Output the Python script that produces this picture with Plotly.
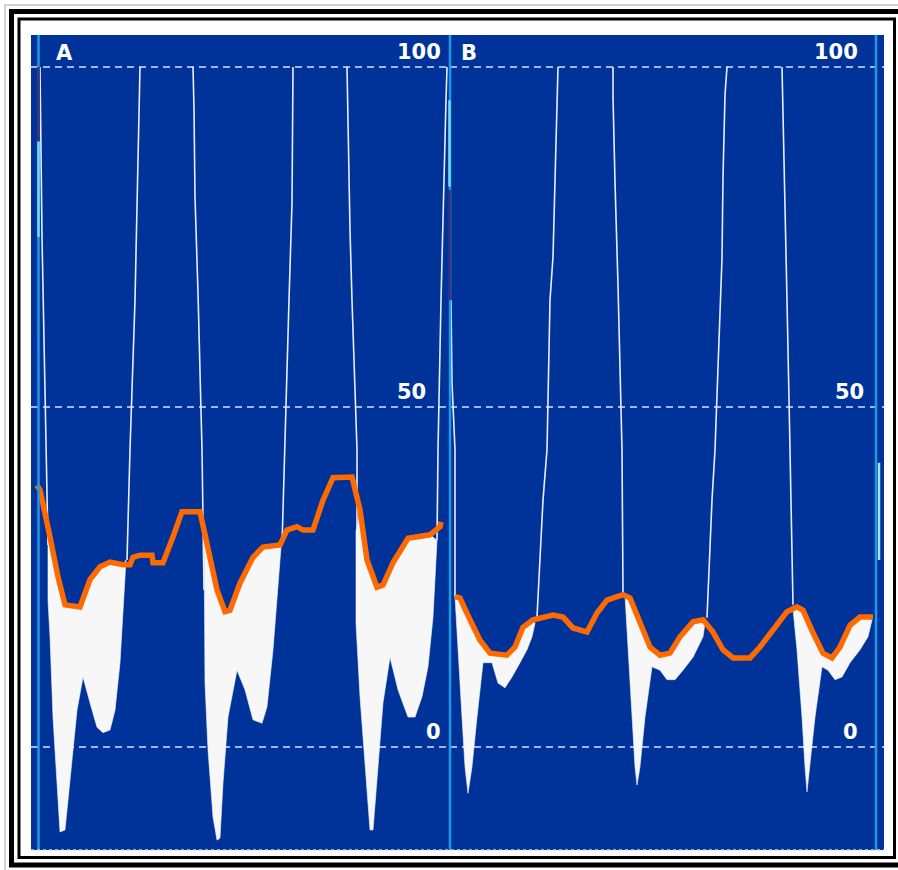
import plotly.graph_objects as go

# ---------------- data ----------------
SCALE_TICKS = [0, 50, 100]
PANELS = ["A", "B"]

# Panel A - orange envelope (time sample, value)
A_ORANGE_T = [37, 40, 50, 58, 65, 80, 90, 100, 110, 123, 130, 133, 140, 152, 153, 163, 173, 182, 200, 207,
              217, 225, 230, 240, 253, 263, 280, 287, 297, 303, 313, 323, 333, 352, 360, 367, 377, 383, 393, 408,
              430, 440, 441]
A_ORANGE_V = [38.5, 37.8, 30.9, 25.0, 20.9, 20.6, 24.6, 26.5, 27.2, 26.8, 26.8, 27.9, 28.2, 28.2, 27.1, 27.1, 30.9, 34.6, 34.6, 30.0,
              23.1, 19.9, 20.1, 24.1, 27.9, 29.4, 29.7, 31.9, 32.4, 31.9, 31.9, 36.3, 39.6, 39.7, 34.9, 27.5, 23.5, 23.8, 27.1, 30.7,
              31.2, 32.4, 33.1]

# Panel A - lower edge of the white spectrum, one list per beat
A_LOWER_T = [
    [48, 48, 50, 53, 57, 60, 65, 70, 77, 83, 90, 97, 103, 110, 115, 120, 123, 126],
    [204, 205, 208, 213, 217, 220, 223, 228, 237, 245, 253, 262, 267, 273, 278, 281],
    [356, 356, 360, 365, 370, 373, 378, 383, 390, 398, 408, 415, 422, 428, 433, 437],
]
A_LOWER_V = [
    [32.2, 21.6, 16.2, 4.4, -5.3, -12.5, -12.2, -5.3, 5.4, 10.3, 6.5, 2.9, 2.1, 2.5, 5.4, 12.4, 20.1, 27.5],
    [32.0, 9.4, -0.4, -10.3, -13.7, -13.4, -5.3, 4.4, 11.3, 8.4, 4.0, 3.5, 5.9, 14.3, 24.1, 29.4],
    [31.9, 18.2, 7.4, -2.9, -12.2, -12.2, -2.9, 6.5, 13.2, 8.4, 4.4, 4.4, 7.4, 11.8, 19.1, 30.4],
]

# Panel A - thin white pressure strokes (clipped at 100)
A_PRESS_T = [[48, 42, 40], [127, 130, 135, 138, 140], [193, 194, 195, 198, 202, 204],
             [282, 285, 289, 292, 293, 293], [347, 348, 350, 352, 357, 357], [437, 438, 441, 442, 446, 447]]
A_PRESS_V = [[29.7, 75.0, 100], [27.5, 43.7, 65.7, 83.8, 100], [100, 93.7, 80.9, 66.8, 43.7, 23.1],
             [29.7, 43.7, 65.7, 80.0, 94.7, 100], [100, 90.3, 76.0, 65.7, 43.7, 31.9], [30.4, 43.7, 65.7, 72.6, 95.1, 100]]

# Panel B - orange envelope
B_ORANGE_T = [455, 460, 470, 480, 490, 507, 515, 523, 533, 540, 553, 563, 573, 587, 597, 607, 623, 630, 640, 650,
              660, 670, 680, 693, 703, 713, 723, 733, 750, 760, 773, 787, 797, 803, 813, 823, 832, 840, 850, 860, 873]
B_ORANGE_V = [22.1, 21.9, 18.7, 15.7, 13.8, 13.5, 14.7, 17.6, 18.7, 19.0, 19.4, 19.1, 17.5, 16.9, 19.7, 21.6, 22.4, 21.9, 18.2, 14.7,
              13.5, 13.8, 16.2, 18.4, 18.7, 16.9, 14.3, 13.1, 13.1, 14.7, 17.2, 19.9, 20.6, 20.1, 16.8, 13.8, 13.1, 14.7, 17.9, 19.1, 19.1]

B_LOWER_T = [
    [455, 458, 462, 465, 468, 472, 477, 483, 492, 498, 505, 512, 520, 527, 532, 535],
    [625, 628, 632, 635, 637, 640, 645, 652, 660, 667, 675, 683, 693, 703, 705],
    [793, 797, 802, 805, 807, 810, 815, 822, 828, 835, 842, 850, 860, 868, 872],
]
B_LOWER_V = [
    [22.1, 14.3, 4.4, -2.9, -6.8, -2.9, 4.4, 12.4, 12.4, 9.4, 8.7, 10.3, 12.4, 14.3, 16.2, 18.2],
    [22.3, 14.3, 4.4, -2.9, -5.6, -2.9, 4.4, 11.8, 11.3, 9.9, 9.9, 11.3, 13.2, 16.2, 18.2],
    [20.3, 14.3, 4.4, -2.9, -6.6, -2.9, 4.4, 11.8, 11.3, 9.9, 10.3, 12.4, 14.3, 16.2, 18.7],
]

B_PRESS_T = [[455, 455, 452, 451], [537, 540, 543, 547, 550, 553, 555, 557, 558], [613, 613, 615, 618, 622, 623],
             [707, 712, 715, 720, 722, 723, 725, 727], [782, 783, 785, 787, 790, 793]]
B_PRESS_V = [[22.1, 43.7, 53.5, 65.7], [19.1, 27.5, 36.3, 43.7, 65.7, 72.1, 84.4, 96.3, 100],
             [100, 95.6, 83.1, 67.9, 43.7, 22.6], [19.0, 36.3, 43.7, 65.7, 71.9, 83.8, 95.9, 100],
             [100, 93.7, 80.4, 65.7, 43.7, 20.9]]

# ---------------- styling / layout ----------------
W, H = 898, 870
PL, PR, PT, PB = 31, 884, 35, 850          # plot area in pixels
X_RANGE_A = [31, 450]
X_RANGE_B = [450, 884]
Y_RANGE = [-15.15, 104.7]
SPLIT = (X_RANGE_A[1] - X_RANGE_A[0]) / (X_RANGE_B[1] - X_RANGE_A[0])

BLUE = "#003399"
ORANGE = "#ff6a00"
FILL = "#f7f7f7"
STROKE = "#e9eef8"
CYAN = "#1f98e6"
GRID = "#a3b5e2"


def px(xp):
    return (xp - PL) / (PR - PL)


def py(yp):
    return (PB - yp) / (PB - PT)


fig = go.Figure()

panels = [
    ("x", "y", A_ORANGE_T, A_ORANGE_V, A_LOWER_T, A_LOWER_V, A_PRESS_T, A_PRESS_V),
    ("x2", "y2", B_ORANGE_T, B_ORANGE_V, B_LOWER_T, B_LOWER_V, B_PRESS_T, B_PRESS_V),
]

for xa, ya, ot, ov, lts, lvs, pts, pvs in panels:
    # white spectral fill, one polygon per beat: orange top + lower edge back
    for lt, lv in zip(lts, lvs):
        t0, t1 = lt[0], lt[-1]
        up = [(t, v) for t, v in zip(ot, ov) if t0 < t < t1]
        xs = [t for t, _ in up] + lt[::-1]
        ys = [v for _, v in up] + lv[::-1]
        fig.add_trace(go.Scatter(x=xs, y=ys, xaxis=xa, yaxis=ya, mode="lines",
                                 fill="toself", fillcolor=FILL,
                                 line=dict(width=0.6, color=FILL),
                                 hoverinfo="skip", showlegend=False))
    # thin white pressure strokes
    sx, sy = [], []
    for t, v in zip(pts, pvs):
        sx += t + [None]
        sy += v + [None]
    fig.add_trace(go.Scatter(x=sx, y=sy, xaxis=xa, yaxis=ya, mode="lines",
                             line=dict(width=1.6, color=STROKE),
                             hoverinfo="skip", showlegend=False))
    # orange envelope
    fig.add_trace(go.Scatter(x=ot, y=ov, xaxis=xa, yaxis=ya, mode="lines",
                             line=dict(width=5.5, color=ORANGE),
                             hoverinfo="skip", showlegend=False))

axis_common = dict(showticklabels=False, ticks="", zeroline=False, showline=False, fixedrange=True)
grid_y = dict(range=Y_RANGE, tickvals=SCALE_TICKS, showgrid=True, gridcolor=GRID,
              gridwidth=1.5, griddash="7px,5px", **axis_common)

fig.update_layout(
    width=W, height=H,
    margin=dict(l=PL, r=W - PR, t=PT, b=H - PB, pad=0),
    paper_bgcolor="white", plot_bgcolor=BLUE,
    showlegend=False,
    xaxis=dict(domain=[0, SPLIT], range=X_RANGE_A, showgrid=False, **axis_common),
    xaxis2=dict(domain=[SPLIT, 1], range=X_RANGE_B, showgrid=False, **axis_common),
    yaxis=dict(anchor="x", **grid_y),
    yaxis2=dict(anchor="x2", matches="y", **grid_y),
)

# ---- labels ----
font = dict(family="DejaVu Sans", size=21, color="white", weight="bold")
ann = []
ann.append(dict(text=PANELS[0], xref="x", yref="y", x=54, y=SCALE_TICKS[2], xanchor="left",
                yanchor="middle", yshift=14, showarrow=False, font=font))
ann.append(dict(text=PANELS[1], xref="x2", yref="y2", x=459, y=SCALE_TICKS[2], xanchor="left",
                yanchor="middle", yshift=14, showarrow=False, font=font))
label_right = {("x", "y"): [443, 428, 443], ("x2", "y2"): [860, 866, 860]}
for (xa, ya), rights in label_right.items():
    for tick, xr in zip(SCALE_TICKS, rights):
        ann.append(dict(text=str(tick), xref=xa, yref=ya, x=xr, y=tick, xanchor="right",
                        yanchor="middle", yshift=15, showarrow=False, font=font))
fig.update_layout(annotations=ann)

# ---- decorations: cyan edge lines and frame ----
shapes = []
for xv in (38.5, 450, 876):
    shapes.append(dict(type="line", xref="paper", yref="paper", x0=px(xv), x1=px(xv), y0=0, y1=1,
                       line=dict(color=CYAN, width=2.5), layer="above"))
# coloured marker segments on the edge lines
for xv, v0, v1, col in ((38.5, 100, 89.1, "#3b2a78"), (38.5, 89.0, 75.0, "#72dcf6"),
                        (449.5, 95.1, 82.4, "#72dcf6"), (449.5, 81.9, 65.7, "#3b2a78"),
                        (879, 41.8, 27.5, "#9fe6f8")):
    shapes.append(dict(type="line", xref="paper", yref="y", x0=px(xv), x1=px(xv), y0=v0, y1=v1,
                       line=dict(color=col, width=2.5), layer="above"))
# light strip at the bottom edge of the display
shapes.append(dict(type="line", xref="paper", yref="paper", x0=0, x1=1, y0=0, y1=0,
                   line=dict(color="#cdd6ee", width=1.5, dash="dot"), layer="above"))
# picture frame (outside the plot area)
shapes.append(dict(type="rect", xref="paper", yref="paper", x0=px(5), y0=py(5), x1=px(910), y1=py(880),
                   line=dict(color="#c4c4c4", width=1.5), layer="above"))
shapes.append(dict(type="rect", xref="paper", yref="paper", x0=px(11.5), y0=py(11.5), x1=px(910), y1=py(865),
                   line=dict(color="black", width=5), layer="above"))
shapes.append(dict(type="rect", xref="paper", yref="paper", x0=px(19), y0=py(19), x1=px(894.5), y1=py(857.5),
                   line=dict(color="black", width=3), layer="above"))
fig.update_layout(shapes=shapes)

fig.write_html("out.html", config={"displayModeBar": False},
               post_script="document.body.style.margin='0';document.body.style.overflow='hidden';")
